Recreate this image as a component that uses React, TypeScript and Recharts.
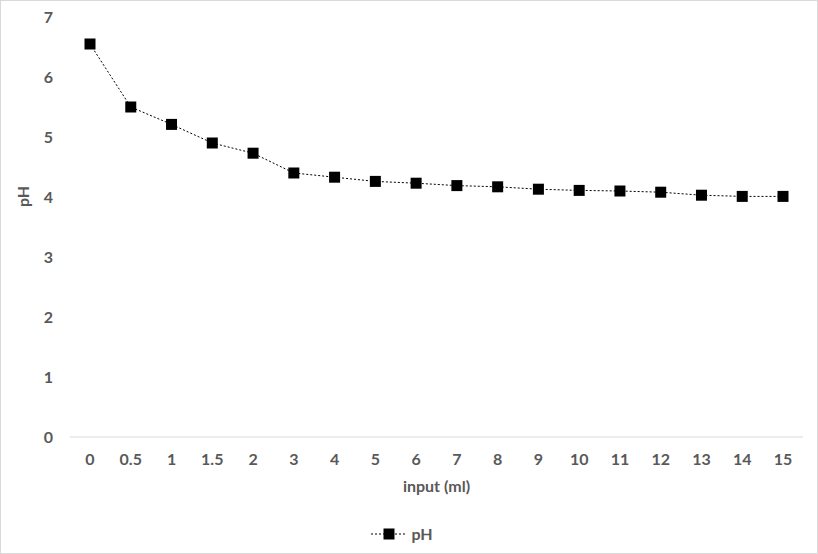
import { LineChart, Line, XAxis, YAxis, Legend } from 'recharts';

const inputs = ['0', '0.5', '1', '1.5', '2', '3', '4', '5', '6', '7', '8', '9', '10', '11', '12', '13', '14', '15'];
const phValues = [6.55, 5.5, 5.21, 4.9, 4.73, 4.4, 4.33, 4.26, 4.23, 4.19, 4.17, 4.13, 4.11, 4.1, 4.08, 4.03, 4.01, 4.01];
const yTicks = [0, 1, 2, 3, 4, 5, 6, 7];

const data = inputs.map((input, i) => ({ input, pH: phValues[i] }));

const FONT = 'Lato, "Open Sans", sans-serif';
const TEXT = '#595959';

function SquareDot(props: any) {
  const { cx, cy, index } = props;
  if (cx == null || cy == null) return null;
  return <rect key={`d-${index}`} x={cx - 5.5} y={cy - 5.5} width={11} height={11} fill="#000" />;
}

function LegendContent() {
  return (
    <div style={{ display: 'flex', justifyContent: 'center', alignItems: 'center', height: 39, fontFamily: FONT }}>
      <svg width={36} height={14}>
        <line x1={0} y1={7} x2={36} y2={7} stroke="#000" strokeWidth={1} strokeDasharray="2 2" />
        <rect x={12.5} y={1.5} width={11} height={11} fill="#000" />
      </svg>
      <span style={{ color: TEXT, fontWeight: 700, fontSize: 16, marginLeft: 4 }}>pH</span>
    </div>
  );
}

export default function App() {
  return (
    <div
      style={{
        position: 'absolute',
        top: 0,
        left: 0,
        width: 818,
        height: 554,
        boxSizing: 'border-box',
        border: '1px solid #d9d9d9',
        background: '#fff',
      }}
    >
      <LineChart width={816} height={552} data={data} margin={{ top: 16, right: 14, left: 0, bottom: 0 }}>
        <XAxis
          dataKey="input"
          height={77}
          padding={{ left: 20, right: 20 }}
          tickLine={false}
          axisLine={{ stroke: '#d9d9d9' }}
          tickMargin={11}
          tick={{ fill: TEXT, fontSize: 16, fontWeight: 700, fontFamily: FONT }}
          interval={0}
          label={{
            value: 'input (ml)',
            position: 'insideTop',
            offset: 44,
            fill: TEXT,
            fontSize: 16,
            fontWeight: 700,
            fontFamily: FONT,
          }}
        />
        <YAxis
          width={69}
          domain={[0, 7]}
          ticks={yTicks}
          tickLine={false}
          axisLine={false}
          tickMargin={11}
          tick={{ fill: TEXT, fontSize: 16, fontWeight: 700, fontFamily: FONT }}
          label={{
            value: 'pH',
            angle: -90,
            position: 'insideLeft',
            offset: 22,
            dy: -20,
            fill: TEXT,
            fontSize: 16,
            fontWeight: 700,
            fontFamily: FONT,
          }}
        />
        <Legend verticalAlign="bottom" height={39} content={<LegendContent />} wrapperStyle={{ bottom: 0 }} />
        <Line
          type="linear"
          dataKey="pH"
          name="pH"
          stroke="#000"
          strokeWidth={1}
          strokeDasharray="2 2"
          dot={<SquareDot />}
          activeDot={false}
          isAnimationActive={false}
        />
      </LineChart>
    </div>
  );
}
